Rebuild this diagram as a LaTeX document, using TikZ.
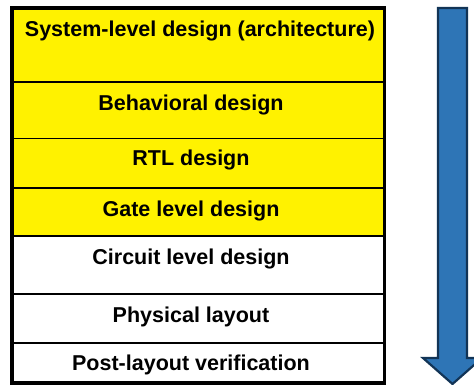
\documentclass[tikz,border=0pt]{standalone}
\usepackage{fontspec}
\setmainfont{Liberation Sans}
\usepackage{tikz}

\definecolor{flowblue}{RGB}{46,117,182}
\definecolor{flowedge}{RGB}{18,52,86}

\begin{document}
\begin{tikzpicture}[x=1pt, y=-1pt,
        row/.style={draw=black, line width=1.4pt},
        label/.style={anchor=base, inner sep=0pt,
                      font=\fontsize{21.5}{26}\selectfont\bfseries}]
        \useasboundingbox (0, 0) rectangle (474, 385);

        % design levels, top to bottom
        \draw[row, fill=yellow] (12,   8.0) rectangle (384.5,  82.0);
        \draw[row, fill=yellow] (12,  82.0) rectangle (384.5, 138.5);
        \draw[row, fill=yellow] (12, 138.5) rectangle (384.5, 188.0);
        \draw[row, fill=yellow] (12, 188.0) rectangle (384.5, 236.0);
        \draw[row, fill=white]  (12, 236.0) rectangle (384.5, 294.0);
        \draw[row, fill=white]  (12, 294.0) rectangle (384.5, 343.0);
        \draw[row, fill=white]  (12, 343.0) rectangle (384.5, 383.0);
        \draw[line width=3.5pt] (12, 8) rectangle (384.5, 383);

        \node[label] (sys)  at (200, 37)  {System-level design (architecture)};
        \node[label] (beh)  at (191, 111) {Behavioral design};
        \node[label] (rtl)  at (191, 166) {RTL design};
        \node[label] (gate) at (191, 216) {Gate level design};
        \node[label] (circ) at (191, 264) {Circuit level design};
        \node[label] (phys) at (191, 322) {Physical layout};
        \node[label] (post) at (191, 370) {Post-layout verification};

        % flow direction
        \draw[fill=flowblue, draw=flowedge, line width=2.2pt, line join=miter]
            (438, 8) -- (467, 8) -- (467, 358) -- (482, 358)
                     -- (452.5, 384) -- (423, 358) -- (438, 358) -- cycle;
    \end{tikzpicture}
\end{document}
